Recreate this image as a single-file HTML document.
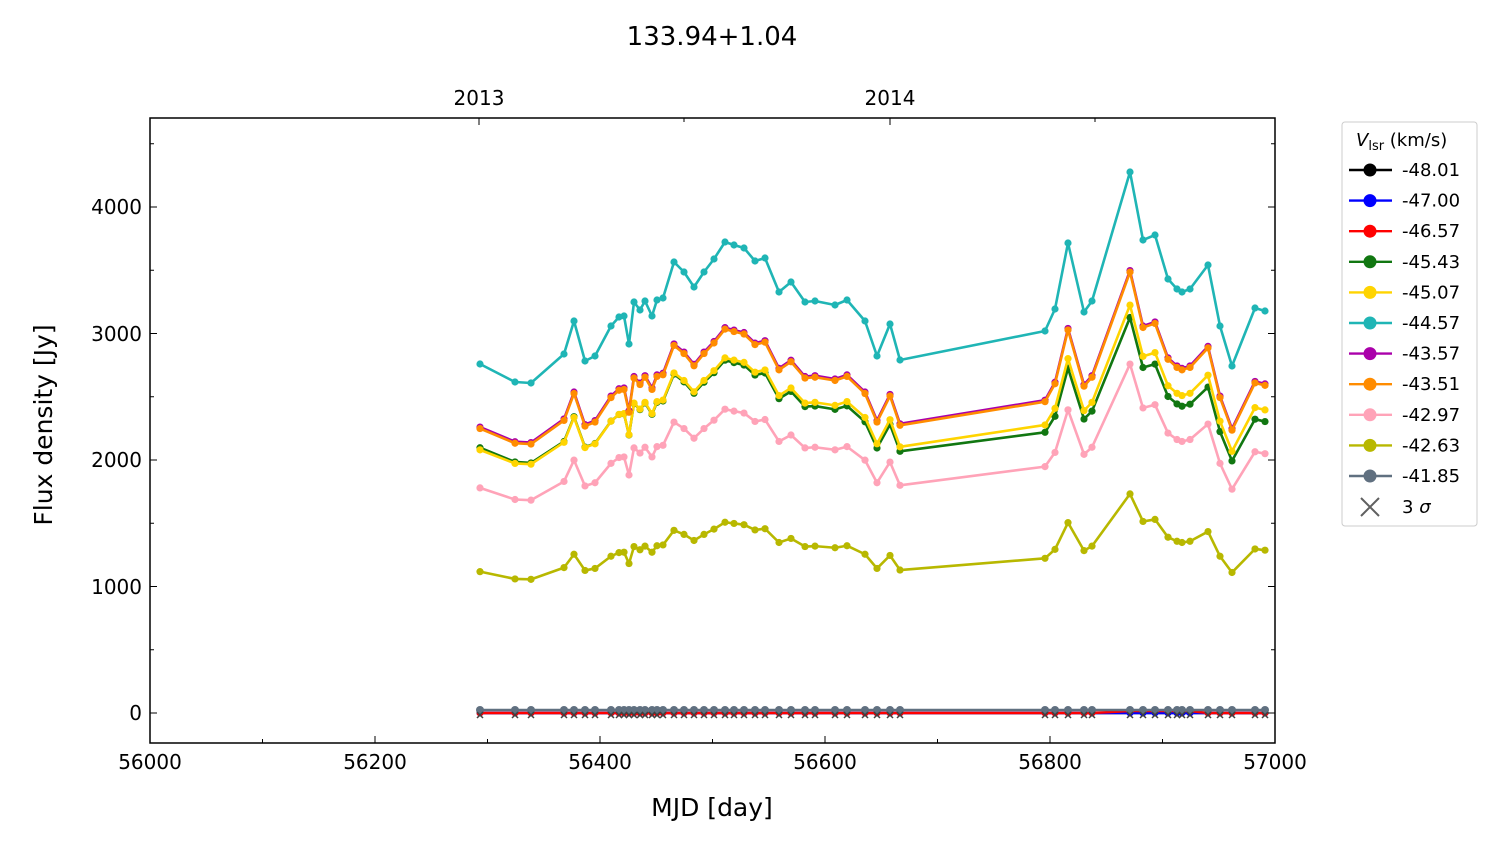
<!DOCTYPE html>
<html><head><meta charset="utf-8"><style>
body{margin:0;background:#fff;}
svg{display:block;font-family:"DejaVu Sans","Liberation Sans",sans-serif;}
</style></head><body>
<svg id="s" width="1500" height="844" xmlns="http://www.w3.org/2000/svg">
<rect width="1500" height="844" fill="#fff"/>
<text x="712" y="45" font-size="26" text-anchor="middle">133.94+1.04</text>
<text x="479" y="105" font-size="20" text-anchor="middle">2013</text>
<text x="890" y="105" font-size="20" text-anchor="middle">2014</text>
<g id="plot"></g>
<rect x="150" y="118" width="1125" height="625" fill="none" stroke="#000" stroke-width="1.5"/>
<g font-size="20" text-anchor="middle">
<text x="150" y="769">56000</text><text x="375" y="769">56200</text><text x="600" y="769">56400</text>
<text x="825" y="769">56600</text><text x="1050" y="769">56800</text><text x="1275" y="769">57000</text>
</g>
<g font-size="20" text-anchor="end">
<text x="142" y="720">0</text><text x="142" y="594">1000</text><text x="142" y="467">2000</text>
<text x="142" y="341">3000</text><text x="142" y="214">4000</text>
</g>
<text x="712" y="816" font-size="25" text-anchor="middle">MJD [day]</text>
<text transform="translate(52,425) rotate(-90)" font-size="25" text-anchor="middle">Flux density [Jy]</text>
<g id="ticks" stroke="#000" stroke-width="1"></g>
<rect x="1342" y="122" width="135" height="404" rx="3" fill="#fff" stroke="#ccc"/>
<text x="1356" y="146" font-size="18"><tspan font-style="italic">V</tspan><tspan font-size="13" dy="4">lsr</tspan><tspan dy="-4"> (km/s)</tspan></text>
<g id="leg" font-size="18"></g>
</svg>
<script>
var NS="http://www.w3.org/2000/svg";
function el(p,t,a){var e=document.createElementNS(NS,t);for(var k in a)e.setAttribute(k,a[k]);p.appendChild(e);return e;}
var T=document.getElementById("ticks");
for(var d=56000;d<=57000;d+=100){var x=150+(d-56000)*1.125;var L=(d%200==0)?7:4;
el(T,"line",{x1:x,y1:743,x2:x,y2:743-L});}
for(var f=0;f<=4500;f+=500){var y=713-f*0.1265;var L=(f%1000==0)?7:4;el(T,"line",{x1:150,y1:y,x2:150+L,y2:y});el(T,"line",{x1:1275,y1:y,x2:1275-L,y2:y});}
[479,890].forEach(function(x){el(T,"line",{x1:x,y1:118,x2:x,y2:125});});
[684,1095].forEach(function(x){el(T,"line",{x1:x,y1:118,x2:x,y2:122});});
var tp=[[480,364],[515,382],[531,383],[564,354],[574,321],[585,361],[595,356],[611,326],[619,317],[624,316],[629,344],[634,302],[640,310],[645,301],[652,316],[657,300],[663,298],[674,262],[684,272],[694,287],[704,272],[714,259],[725,242],[734,245],[744,248],[755,261],[765,258],[779,292],[791,282],[805,302],[815,301],[835,305],[847,300],[865,321],[877,356],[890,324],[900,360],[1045,331],[1055,309],[1068,243],[1084,312],[1092,301],[1130,172],[1143,240],[1155,235],[1168,279],[1177,289],[1182,292],[1190,289],[1208,265],[1220,326],[1232,366],[1255,308],[1265,311]];
var P=document.getElementById("plot");
function series(col,fn,sw,r){var pts=tp.map(function(p){return [p[0],fn(p)];});
el(P,"polyline",{points:pts.map(function(p){return p.join(",")}).join(" "),fill:"none",stroke:col,"stroke-width":sw||2.6,"stroke-linejoin":"round"});
pts.forEach(function(p){el(P,"circle",{cx:p[0],cy:p[1],r:r||3.6,fill:col});});}
function sc(k){return function(p){var f=(713-p[1])/0.1265;return 713-f*k*0.1265;};}
function gr(p){var f=(713-p[1])/0.1265;var k=0.76-0.035*(p[0]-480)/785;return 713-f*k*0.1265;}
series("#1fb5b5",function(p){return p[1];});
series("#b8b800",sc(0.405));
series("#ffa3b8",sc(0.645));
series("#117711",gr);
series("#ffd400",sc(0.754));
series("#aa00aa",function(p){return sc(0.815)(p)-1.5;});
series("#ff8c00",sc(0.815));
series("#000",function(){return 713;},2.4,3.4);
series("#0000ff",function(){return 713;},2.4,3.4);
series("#ff0000",function(p){return p[0]>1120&&p[0]<1200?711:713;},2.4,3.4);
series("#607080",function(){return 710;},2.6,4);
tp.forEach(function(p){var x=p[0],y=715;el(P,"path",{d:"M"+(x-3)+","+(y-3)+"L"+(x+3)+","+(y+3)+"M"+(x-3)+","+(y+3)+"L"+(x+3)+","+(y-3),stroke:"#404040","stroke-width":1.5});});
var G=document.getElementById("leg");
var L=[["#000","-48.01"],["#0000ff","-47.00"],["#ff0000","-46.57"],["#117711","-45.43"],["#ffd400","-45.07"],["#1fb5b5","-44.57"],["#aa00aa","-43.57"],["#ff8c00","-43.51"],["#ffa3b8","-42.97"],["#b8b800","-42.63"],["#607080","-41.85"]];
L.forEach(function(l,i){var y=170+i*30.6;el(G,"line",{x1:1349,y1:y,x2:1392,y2:y,stroke:l[0],"stroke-width":2.4});el(G,"circle",{cx:1370,cy:y,r:6.5,fill:l[0]});var t=el(G,"text",{x:1402,y:y+6});t.textContent=l[1];});
var y=507;el(G,"path",{d:"M1361,"+(y-9)+"L1379,"+(y+9)+"M1361,"+(y+9)+"L1379,"+(y-9),stroke:"#606060","stroke-width":2});
var t=el(G,"text",{x:1402,y:y+6});t.innerHTML='3 <tspan font-style="italic">σ</tspan>';
</script>
</body></html>
